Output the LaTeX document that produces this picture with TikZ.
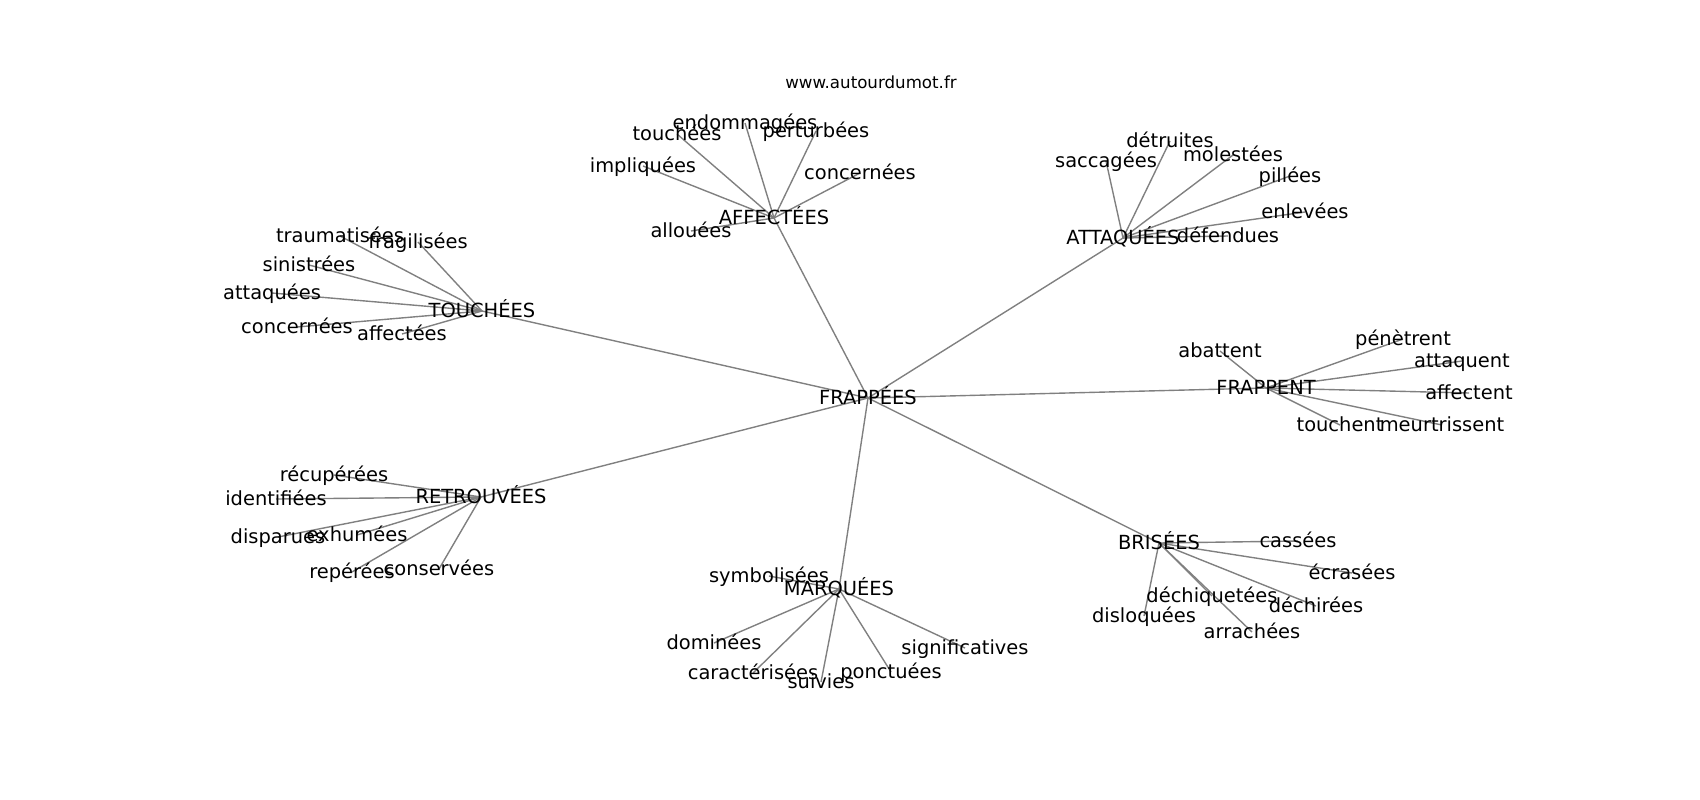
\documentclass[tikz,border=0pt]{standalone}
\usepackage{fontspec}
\setmainfont{DejaVu Sans}
\usetikzlibrary{backgrounds}
\tikzset{
  lbl/.style={inner sep=0pt, anchor=center, text height=10bp, text depth=0bp, font=\fontsize{14bp}{16bp}\selectfont, text=black},
  ttl/.style={inner sep=0pt, anchor=center, text height=8.6bp, text depth=0bp, font=\fontsize{12bp}{14bp}\selectfont, text=black},
  edge/.style={draw=gray, line width=1bp}
}
\begin{document}
\begin{tikzpicture}[x=0.72bp, y=-0.72bp]
\useasboundingbox (0,0) rectangle (1700,800);
\node[ttl] (title) at (871,83) {www.autourdumot.fr};
% hubs
\node[lbl] (frappees) at (868,398) {FRAPPÉES};
\node[lbl] (affectees) at (774,218) {AFFECTÉES};
\node[lbl] (attaquees) at (1123,238) {ATTAQUÉES};
\node[lbl] (touchees) at (482,311) {TOUCHÉES};
\node[lbl] (frappent) at (1266,388) {FRAPPENT};
\node[lbl] (retrouvees) at (481,497) {RETROUVÉES};
\node[lbl] (marquees) at (839,589) {MARQUÉES};
\node[lbl] (brisees) at (1159,543) {BRISÉES};
% AFFECTÉES leaves
\node[lbl] (a1) at (677,134) {touchées};
\node[lbl] (a2) at (745,123) {endommagées};
\node[lbl] (a3) at (816,131) {perturbées};
\node[lbl] (a4) at (643,166) {impliquées};
\node[lbl] (a5) at (860,173) {concernées};
\node[lbl] (a6) at (691,231) {allouées};
% ATTAQUÉES leaves
\node[lbl] (b1) at (1106,161) {saccagées};
\node[lbl] (b2) at (1170,141) {détruites};
\node[lbl] (b3) at (1233,155) {molestées};
\node[lbl] (b4) at (1290,176) {pillées};
\node[lbl] (b5) at (1305,212) {enlevées};
\node[lbl] (b6) at (1228,236) {défendues};
% TOUCHÉES leaves
\node[lbl] (c1) at (340,236) {traumatisées};
\node[lbl] (c2) at (418,242) {fragilisées};
\node[lbl] (c3) at (309,265) {sinistrées};
\node[lbl] (c4) at (272,293) {attaquées};
\node[lbl] (c5) at (297,327) {concernées};
\node[lbl] (c6) at (402,334) {affectées};
% FRAPPENT leaves
\node[lbl] (d1) at (1220,351) {abattent};
\node[lbl] (d2) at (1403,339) {pénètrent};
\node[lbl] (d3) at (1462,361) {attaquent};
\node[lbl] (d4) at (1469,393) {affectent};
\node[lbl] (d5) at (1340,425) {touchent};
\node[lbl] (d6) at (1442,425) {meurtrissent};
% RETROUVÉES leaves
\node[lbl] (e1) at (334,475) {récupérées};
\node[lbl] (e2) at (276,499) {identifiées};
\node[lbl] (e3) at (278,537) {disparues};
\node[lbl] (e4) at (357,535) {exhumées};
\node[lbl] (e5) at (352,572) {repérées};
\node[lbl] (e6) at (439,569) {conservées};
% MARQUÉES leaves
\node[lbl] (f1) at (769,576) {symbolisées};
\node[lbl] (f2) at (714,643) {dominées};
\node[lbl] (f3) at (753,673) {caractérisées};
\node[lbl] (f4) at (821,682) {suivies};
\node[lbl] (f5) at (891,672) {ponctuées};
\node[lbl] (f6) at (965,648) {significatives};
% BRISÉES leaves
\node[lbl] (g1) at (1298,541) {cassées};
\node[lbl] (g2) at (1352,573) {écrasées};
\node[lbl] (g3) at (1212,596) {déchiquetées};
\node[lbl] (g4) at (1316,606) {déchirées};
\node[lbl] (g5) at (1144,616) {disloquées};
\node[lbl] (g6) at (1252,632) {arrachées};
\begin{pgfonlayer}{background}
\fill[white] (0,0) rectangle (1700,800);
\foreach \h in {affectees,attaquees,touchees,frappent,retrouvees,marquees,brisees}
  \draw[edge] (frappees.center) -- (\h.center);
\foreach \l in {a1,a2,a3,a4,a5,a6} \draw[edge] (affectees.center) -- (\l.center);
\foreach \l in {b1,b2,b3,b4,b5,b6} \draw[edge] (attaquees.center) -- (\l.center);
\foreach \l in {c1,c2,c3,c4,c5,c6} \draw[edge] (touchees.center) -- (\l.center);
\foreach \l in {d1,d2,d3,d4,d5,d6} \draw[edge] (frappent.center) -- (\l.center);
\foreach \l in {e1,e2,e3,e4,e5,e6} \draw[edge] (retrouvees.center) -- (\l.center);
\foreach \l in {f1,f2,f3,f4,f5,f6} \draw[edge] (marquees.center) -- (\l.center);
\foreach \l in {g1,g2,g3,g4,g5,g6} \draw[edge] (brisees.center) -- (\l.center);
\end{pgfonlayer}
\end{tikzpicture}
\end{document}
